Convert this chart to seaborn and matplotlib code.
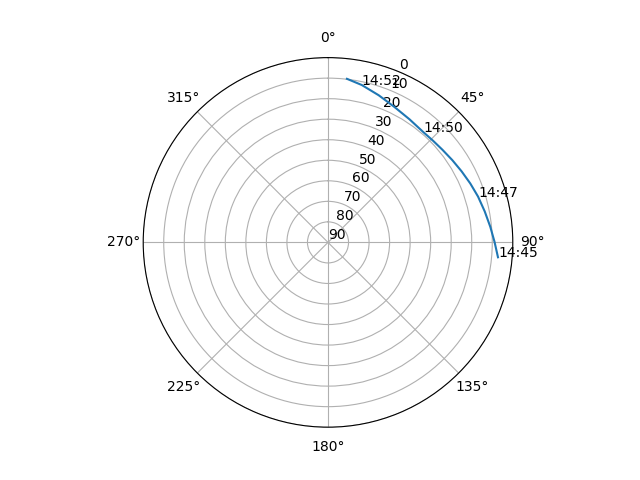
import numpy as np
import matplotlib
matplotlib.use("Agg")
import matplotlib.pyplot as plt
import seaborn as sns

# pass track: time, azimuth (deg), elevation (deg)
times = ['14:45:00', '14:45:30', '14:46:00', '14:46:30', '14:47:00', '14:47:30',
         '14:48:00', '14:48:30', '14:49:00', '14:49:30', '14:50:00', '14:50:30',
         '14:51:00', '14:51:30', '14:52:00', '14:52:25']
azimuth = [95.0, 89.8, 84.5, 78.8, 73.0, 67.5, 62.0, 56.5, 51.0, 46.0, 40.7, 33.5,
           26.0, 19.0, 12.1, 6.6]
elevation = [6.9, 8.9, 10.6, 12.2, 13.6, 15.0, 16.3, 17.4, 18.3, 18.8, 19.0, 18.1,
             16.5, 14.2, 11.6, 9.8]
labelled = ['14:45:00', '14:47:00', '14:50:00', '14:52:00']

fig = plt.figure(figsize=(6.4, 4.8), dpi=100)
ax = fig.add_subplot(111, projection='polar')
ax.set_theta_zero_location('N')
ax.set_theta_direction(-1)

theta = np.radians(azimuth)
sns.lineplot(x=theta, y=elevation, ax=ax, sort=False, estimator=None)

for t, th, el in zip(times, theta, elevation):
    if t in labelled:
        ax.text(th, el, t[:5])

ax.set_ylim(90, 0)
ax.set_yticks(range(0, 91, 10))
ax.set_xlabel('')
ax.set_ylabel('')

fig.savefig('out.png', dpi=100)
